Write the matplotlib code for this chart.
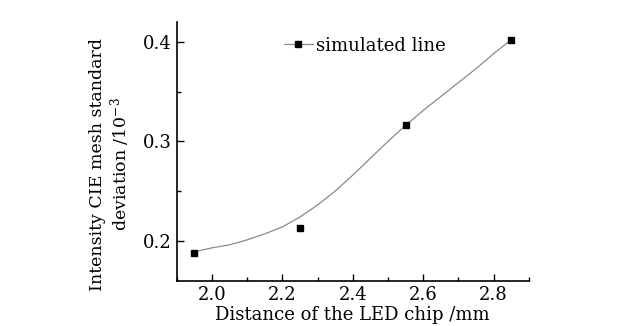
import matplotlib
matplotlib.use("Agg")
import matplotlib.pyplot as plt
from matplotlib.lines import Line2D
from matplotlib.ticker import MultipleLocator

# measured points
distance = [1.95, 2.25, 2.55, 2.85]
deviation = [0.188, 0.213, 0.316, 0.402]

# smooth simulated curve
curve_x = [1.95, 2.00, 2.05, 2.10, 2.15, 2.20, 2.25, 2.30, 2.35, 2.40,
           2.45, 2.50, 2.55, 2.60, 2.65, 2.70, 2.75, 2.80, 2.85]
curve_y = [0.189, 0.193, 0.196, 0.201, 0.207, 0.214, 0.224, 0.236, 0.250, 0.266,
           0.283, 0.300, 0.316, 0.331, 0.345, 0.359, 0.373, 0.388, 0.402]

plt.rcParams['font.family'] = ['DejaVu Serif']
plt.rcParams['mathtext.fontset'] = 'dejavuserif'

fig = plt.figure(figsize=(6.2, 3.26), dpi=100)
ax = fig.add_axes([0.285, 0.139, 0.568, 0.794])

ax.plot(curve_x, curve_y, color='#8a8a8a', lw=0.9)
ax.plot(distance, deviation, ls='none', marker='s', ms=4.5, color='black')

ax.set_xlim(1.9, 2.9)
ax.set_ylim(0.16, 0.42)
ax.xaxis.set_major_locator(MultipleLocator(0.2))
ax.xaxis.set_minor_locator(MultipleLocator(0.1))
ax.yaxis.set_major_locator(MultipleLocator(0.1))
ax.yaxis.set_minor_locator(MultipleLocator(0.05))
ax.tick_params(which='major', direction='in', length=5, width=1, labelsize=13)
ax.tick_params(which='minor', direction='in', length=3, width=1)
ax.spines['top'].set_visible(False)
ax.spines['right'].set_visible(False)
for s in ('left', 'bottom'):
    ax.spines[s].set_linewidth(1.2)

ax.set_xlabel('Distance of the LED chip /mm', fontsize=13, labelpad=2)
ax.set_ylabel('Intensity CIE mesh standard\ndeviation /10$^{-3}$', fontsize=12.5,
              linespacing=1.1)
ax.yaxis.set_label_coords(-0.127, 0.45)

handle = Line2D([], [], color='#8a8a8a', lw=0.9, marker='s', ms=4.5,
                markerfacecolor='black', markeredgecolor='black')
ax.legend([handle], ['simulated line'], loc='upper center', bbox_to_anchor=(0.535, 1.005),
          frameon=False, fontsize=13, handlelength=1.6, handletextpad=0.2)

fig.savefig('out.png', dpi=100)
